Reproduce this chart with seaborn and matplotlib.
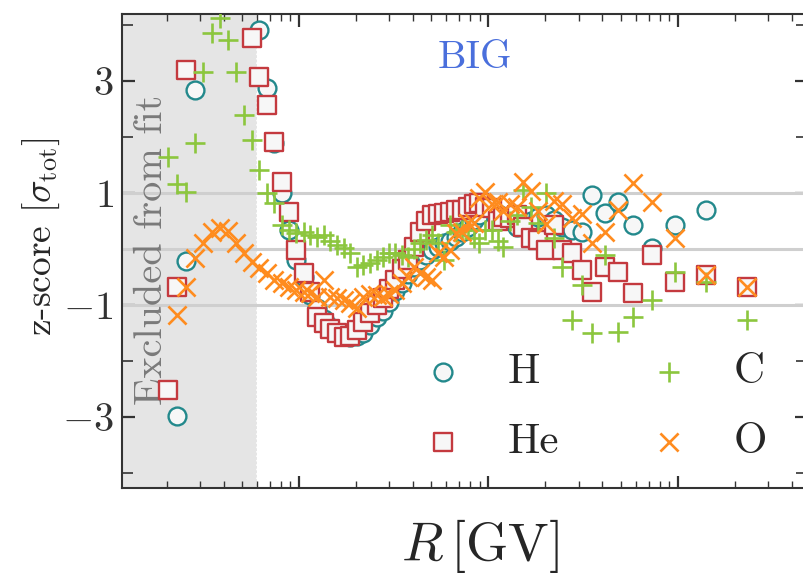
import numpy as np
import pandas as pd
import matplotlib
matplotlib.use("Agg")
import matplotlib.pyplot as plt
import matplotlib.ticker as mticker
import seaborn as sns

# ---------------- data ----------------
H_R = [2.27, 2.53, 2.82, 6.18, 6.78, 7.42, 8.12, 8.87, 9.68, 10.6, 11.5, 12.5,
       13.5, 14.6, 15.9, 17.3, 18.7, 20.3, 21.9, 23.7, 25.7, 27.7, 29.9, 32.3,
       34.8, 37.5, 40.4, 43.5, 46.8, 50.3, 54.1, 58.2, 62.5, 67.2, 72.3, 77.7,
       83.5, 89.7, 96.5, 104, 112, 120, 130, 141, 153, 167, 183, 201, 222, 246,
       275, 310, 354, 410, 481, 581, 727, 964, 1415]
H_z = [-2.98, -0.21, 2.84, 3.91, 2.875, 1.89, 1.0, 0.34, -0.20, -0.5, -0.82, -1.05,
       -1.25, -1.4, -1.5, -1.55, -1.57, -1.55, -1.5, -1.35, -1.21, -1.1, -0.95, -0.75,
       -0.6, -0.45, -0.32, -0.2, -0.1, -0.02, 0.04, 0.1, 0.15, 0.21, 0.3, 0.4,
       0.52, 0.61, 0.75, 0.7, 0.62, 0.55, 0.5, 0.4, 0.39, 0.5, 0.58, 0.6, 0.52, 0.4,
       0.34, 0.3, 0.96, 0.64, 0.84, 0.43, 0.02, 0.43, 0.70]

He_R = [2.03, 2.27, 2.53, 5.63, 6.18, 6.78, 7.42, 8.12, 8.87, 9.68, 10.6, 11.5,
        12.5, 13.5, 14.6, 15.9, 17.3, 18.7, 20.3, 21.9, 23.7, 25.7, 27.7, 29.9,
        32.3, 34.8, 37.5, 40.4, 43.5, 46.8, 50.3, 54.1, 58.2, 62.5, 67.2, 72.3,
        77.7, 83.5, 89.7, 96.5, 104, 112, 120, 130, 141, 153, 167, 183, 201, 222,
        246, 275, 310, 354, 410, 481, 581, 727, 964, 1415, 2320]
He_z = [-2.52, -0.68, 3.2, 3.77, 3.07, 2.57, 1.91, 1.2, 0.66, -0.02, -0.43, -0.77,
        -1.21, -1.32, -1.42, -1.5, -1.58, -1.55, -1.45, -1.3, -1.15, -1.0, -0.88, -0.72,
        -0.55, -0.35, -0.2, 0.04, 0.3, 0.5, 0.6, 0.62, 0.64, 0.66, 0.7, 0.7,
        0.75, 0.8, 0.82, 0.75, 0.73, 0.5, 0.57, 0.55, 0.61, 0.39, 0.2, 0.16, -0.02, 0.43,
        -0.02, -0.07, -0.38, -0.77, -0.32, -0.41, -0.79, -0.11, -0.59, -0.46, -0.68]

C_R = [2.03, 2.27, 2.53, 2.82, 3.13, 3.46, 3.83, 4.22, 4.65, 5.12, 5.63, 6.18,
       6.78, 7.42, 8.12, 8.87, 9.68, 10.6, 11.5, 12.5, 13.5, 14.6, 15.9, 17.3,
       18.7, 20.3, 21.9, 23.7, 25.7, 27.7, 29.9, 32.3, 34.8, 37.5, 40.4, 43.5,
       46.8, 50.3, 54.1, 58.2, 62.5, 67.2, 72.3, 77.7, 83.5, 89.7, 96.5, 104,
       112, 120, 130, 141, 153, 167, 183, 201, 222, 246, 275, 310, 354, 410,
       481, 581, 727, 964, 1415, 2320]
C_z = [1.64, 1.16, 1.02, 1.89, 3.16, 3.86, 4.13, 3.73, 3.16, 2.39, 1.95, 1.41,
       1.0, 0.82, 0.43, 0.34, 0.29, 0.30, 0.25, 0.21, 0.25, 0.15, 0.08, 0.02,
       -0.07, -0.32, -0.29, -0.25, -0.2, -0.14, -0.07, -0.07, -0.1, -0.14, 0.0, 0.1,
       0.16, 0.25, 0.1, -0.2, 0.43, 0.3, 0.34, 0.34, 0.2, 0.11, 0.34, 0.34,
       0.15, 0.04, 0.5, 0.6, 1.05, 0.75, 0.46, 1.0, 0.2, -0.32, -1.27, -0.64, -1.5, -0.11,
       -1.48, -1.21, -0.91, -0.41, -0.59, -1.27]

O_R = [2.27, 2.53, 2.82, 3.13, 3.46, 3.83, 4.22, 4.65, 5.12, 5.63, 6.18, 6.78,
       7.42, 8.12, 8.87, 9.68, 10.6, 11.5, 12.5, 13.5, 14.6, 15.9, 17.3, 18.7,
       20.3, 21.9, 23.7, 25.7, 27.7, 29.9, 32.3, 34.8, 37.5, 40.4, 43.5, 46.8,
       50.3, 54.1, 58.2, 62.5, 67.2, 72.3, 77.7, 83.5, 89.7, 96.5, 104, 112,
       120, 130, 141, 153, 167, 183, 201, 222, 246, 275, 310, 354, 410, 481,
       581, 727, 964, 1415, 2320]
O_z = [-1.18, -0.68, -0.16, 0.11, 0.3, 0.38, 0.32, 0.11, -0.07, -0.23, -0.34, -0.43,
       -0.55, -0.61, -0.68, -0.73, -0.76, -0.79, -0.86, -0.55, -0.86, -0.88, -0.91, -0.96,
       -1.05, -0.86, -0.8, -0.82, -0.86, -0.8, -0.73, -0.6, -0.5, -0.32, -0.43, -0.5,
       -0.55, -0.07, -0.14, -0.02, 0.29, 0.3, 0.46, 0.46, 0.91, 1.02, 0.8, 0.84,
       0.68, 0.8, 0.75, 1.2, 1.04, 0.68, 0.45, 0.86, 0.8, 0.55, 0.63, 0.1, 0.3, 0.7,
       1.18, 0.84, 0.2, -0.46, -0.68]

species = ["H", "He", "C", "O"]
colors = {"H": "#23898c", "He": "#c43a3f", "C": "#8cc63e", "O": "#ff8c1f"}
excluded_max = 6.0
hlines = [-1, 0, 1]
ytick_vals = [-3, -1, 1, 3]
ytick_labels = ["$-3$", "$-1$", "$1$", "$3$"]

# ---------------- style ----------------
sns.set_style("ticks")
plt.rcParams["font.family"] = ["cmr10", "DejaVu Serif"]
plt.rcParams["mathtext.fontset"] = "cm"
plt.rcParams["axes.formatter.use_mathtext"] = True

fig = plt.figure(figsize=(8.04, 5.80), dpi=100)
ax = fig.add_axes([0.1517, 0.1586, 0.852, 0.8173])

ax.set_xscale("log")
ax.set_xlim(1.164, 4800)
ax.set_ylim(-4.27, 4.2)

ax.axvspan(1.0, excluded_max, color="#e5e5e5", lw=0, zorder=0)
ax.axvline(excluded_max, color="white", ls=":", lw=1.2, zorder=0.5)
for yv in hlines:
    ax.axhline(yv, color="#cfcfcf", lw=2.2, zorder=1)

fill = "#f7f7f7"
sns.scatterplot(x=H_R, y=H_z, ax=ax, marker="o", s=165, facecolor=fill,
                edgecolor=colors["H"], linewidth=1.7, label="H", zorder=3)
sns.scatterplot(x=He_R, y=He_z, ax=ax, marker="s", s=165, facecolor=fill,
                edgecolor=colors["He"], linewidth=1.7, label="He", zorder=4)
sns.scatterplot(x=C_R, y=C_z, ax=ax, marker="+", s=190, color=colors["C"],
                linewidth=1.9, label="C", zorder=5)
sns.scatterplot(x=O_R, y=O_z, ax=ax, marker="x", s=170, color=colors["O"],
                linewidth=1.9, label="O", zorder=6)

# ticks
ax.xaxis.set_major_locator(mticker.LogLocator(base=10))
ax.xaxis.set_minor_locator(mticker.LogLocator(base=10, subs=np.arange(2, 10)))
ax.xaxis.set_major_formatter(mticker.NullFormatter())
ax.xaxis.set_minor_formatter(mticker.NullFormatter())
ax.set_yticks(ytick_vals)
ax.set_yticklabels(ytick_labels)
ax.yaxis.set_minor_locator(mticker.FixedLocator([-4, -2, 0, 2, 4]))
ax.tick_params(which="both", direction="in", top=True, right=True, colors="#333333")
ax.tick_params(which="major", length=9, width=1.6, labelsize=29, pad=6)
ax.tick_params(which="minor", length=5, width=1.0)
ax.tick_params(axis="y", which="minor", length=8, width=1.2)
for sp in ax.spines.values():
    sp.set_color("#333333")
    sp.set_linewidth(1.5)

ax.set_xlabel(r"$R\,[\mathrm{GV}]$", fontsize=39)
ax.xaxis.set_label_coords(0.523, -0.062)
ax.set_ylabel(r"z-score $[\sigma_{\rm tot}]$", fontsize=27)
ax.yaxis.set_label_coords(-0.087, 0.53)

ax.text(0.044, 0.502, "Excluded from fit", transform=ax.transAxes, rotation=90,
        ha="center", va="center", fontsize=29, color="#7a7a7a", zorder=2)
ax.text(0.515, 0.907, "BIG", transform=ax.transAxes, ha="center", va="center",
        fontsize=29, color="#4a6fdc", zorder=7)

ax.legend(loc="lower right", bbox_to_anchor=(0.967, 0.02), ncol=2, frameon=False,
          fontsize=31, handlelength=1.0, handletextpad=1.0, columnspacing=2.05,
          labelspacing=0.74, borderaxespad=0.0)

fig.savefig("out.png", dpi=100)
